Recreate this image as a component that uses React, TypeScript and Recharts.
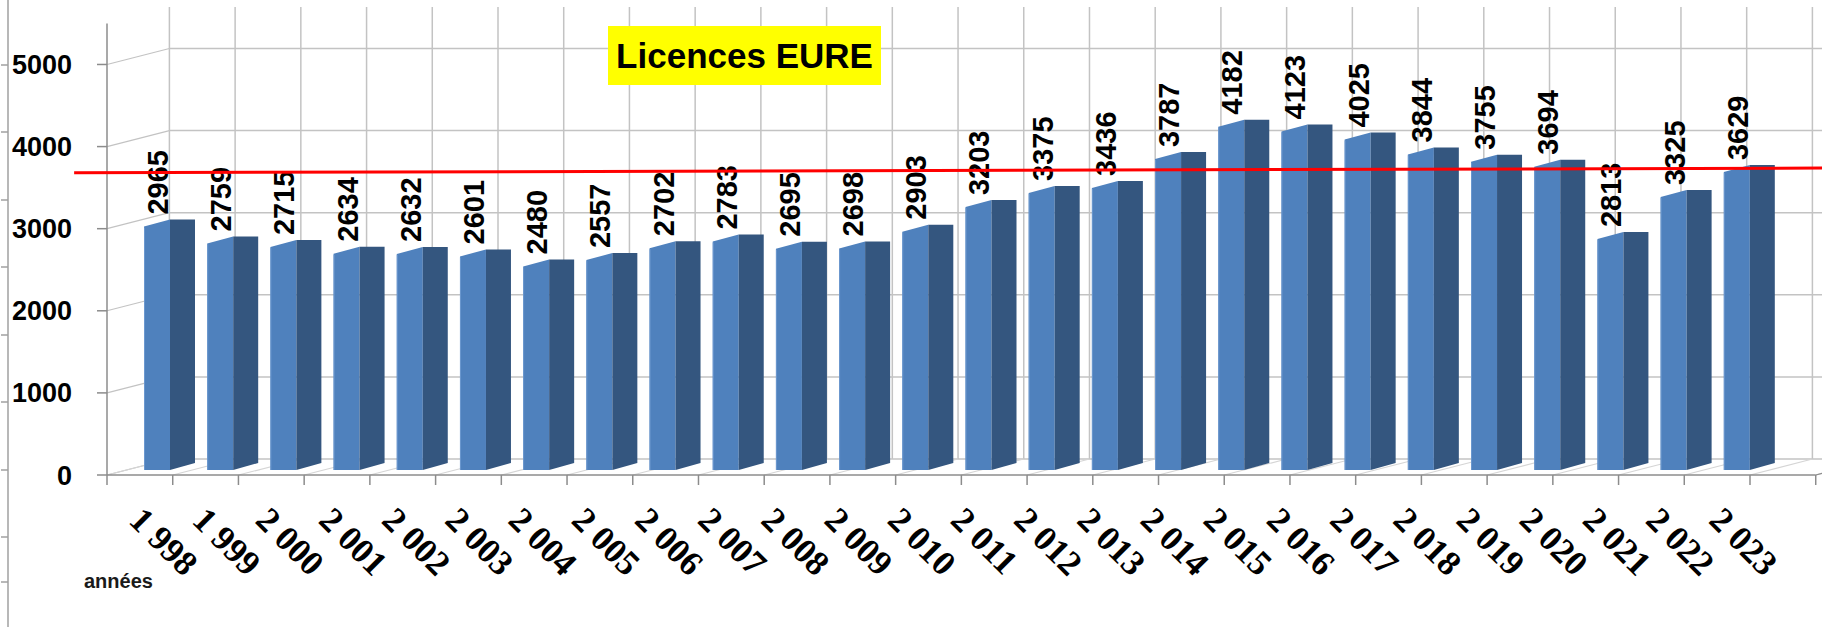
import React from 'react';
import { ComposedChart, Bar, XAxis, YAxis, ReferenceLine } from 'recharts';

// ---------- data ----------
const YEARS = ['1 998', '1 999', '2 000', '2 001', '2 002', '2 003', '2 004', '2 005', '2 006', '2 007', '2 008', '2 009', '2 010', '2 011', '2 012', '2 013', '2 014', '2 015', '2 016', '2 017', '2 018', '2 019', '2 020', '2 021', '2 022', '2 023'];
const LICENCES = [2965, 2759, 2715, 2634, 2632, 2601, 2480, 2557, 2702, 2783, 2695, 2698, 2903, 3203, 3375, 3436, 3787, 4182, 4123, 4025, 3844, 3755, 3694, 2813, 3325, 3629];
const Y_TICKS = [0, 1000, 2000, 3000, 4000, 5000];
const Y_MAX = 5700;
const Y_AXIS_TOP = 5500;
const RED_LINE_X = [-0.5, 27.0];
const RED_LINE_Y = [3680, 3740];
const TITLE = 'Licences EURE';
const X_TITLE = 'années';

// ---------- layout ----------
const W = 1822;
const H = 627;
const MARGIN = { top: 7, right: 72, bottom: 0, left: 0 };
const Y_AXIS_W = 107;
const X_AXIS_H = 152;
const plotW = W - MARGIN.left - MARGIN.right - Y_AXIS_W;
const plotH = H - MARGIN.top - MARGIN.bottom - X_AXIS_H;
const N = YEARS.length;
const pxPerCat = plotW / N;
const pxPerVal = plotH / Y_MAX;
const DEPTH_PX = { x: 60, y: 16 };
const DX = DEPTH_PX.x / pxPerCat;
const DY = DEPTH_PX.y / pxPerVal;
const TICK_LEN = 10 / pxPerVal;

const BAR_SHIFT = { x: 18, y: -5 };
const SIDE = { x: 25, y: 7 };
const FRONT = '#4F81BD';
const SIDE_COL = '#34567F';
const GRID = '#C3C3C3';
const AXIS = '#8C8C8C';

const data = YEARS.map((year, i) => ({ year, licences: LICENCES[i] }));
const idx = Array.from({ length: N + 1 }, (_, i) => i);

type Seg = { x: number; y: number }[];
const backH: Seg[] = Y_TICKS.map((v) => [{ x: DX, y: v + DY }, { x: N + DX, y: v + DY }]);
const backV: Seg[] = idx.map((i) => [{ x: i + DX, y: DY }, { x: i + DX, y: Y_MAX }]);
const leftWall: Seg[] = Y_TICKS.map((v) => [{ x: 0, y: v }, { x: DX, y: v + DY }]);
const floorD: Seg[] = idx.map((i) => [{ x: i, y: 0 }, { x: i + DX, y: DY }]);
const frontTicks: Seg[] = idx.map((i) => [{ x: i, y: 0 }, { x: i, y: -TICK_LEN }]);

const RULER_TICKS = [65, 132, 200, 267, 335, 402, 470, 537, 582];

function Bar3D(props: any) {
  const { x, y, width, height, payload, value } = props;
  if (x == null || y == null) return null;
  const fx = x + BAR_SHIFT.x;
  const fy = y + BAR_SHIFT.y;
  const w = width;
  const h = height;
  const v = payload && payload.licences != null ? payload.licences : Array.isArray(value) ? value[1] : value;
  const cx = fx + w / 2 + 1;
  const ly = fy - 12;
  return (
    <g>
      <polygon
        points={`${fx},${fy + h} ${fx},${fy} ${fx + w},${fy - SIDE.y} ${fx + w},${fy + h}`}
        fill={FRONT}
      />
      <line x1={fx + 0.5} y1={fy + 1} x2={fx + 0.5} y2={fy + h} stroke="#6C98CF" strokeWidth={1} />
      <polygon
        points={`${fx + w},${fy - SIDE.y} ${fx + w + SIDE.x},${fy - SIDE.y} ${fx + w + SIDE.x},${fy + h - SIDE.y} ${fx + w},${fy + h}`}
        fill={SIDE_COL}
      />
      <text
        x={cx}
        y={ly}
        transform={`rotate(-90 ${cx} ${ly})`}
        textAnchor="start"
        dominantBaseline="central"
        fontFamily="'Liberation Sans', Arial, sans-serif"
        fontWeight="bold"
        fontSize={29}
        fill="#000"
      >
        {v}
      </text>
    </g>
  );
}

function XTick(props: any) {
  const { x, y, payload } = props;
  const px = x - 11;
  const py = y + 47;
  return (
    <text
      x={px}
      y={py}
      transform={`rotate(45 ${px} ${py})`}
      textAnchor="start"
      fontFamily="'Liberation Serif', 'Times New Roman', serif"
      fontWeight="bold"
      fontSize={35}
      fill="#000"
    >
      {payload.value}
    </text>
  );
}

function seg(s: Seg, key: string, stroke: string, sw: number, z: number) {
  return (
    <ReferenceLine
      key={key}
      xAxisId="gx"
      yAxisId="f"
      segment={s}
      stroke={stroke}
      strokeWidth={sw}
      ifOverflow="visible"
      zIndex={z}
    />
  );
}

export default function App() {
  return (
    <div style={{ position: 'absolute', left: 0, top: 0, width: W, height: H, background: '#fff', overflow: 'hidden' }}>
      <svg width={W} height={H} style={{ position: 'absolute', left: 0, top: 0 }}>
        <line x1={8} y1={0} x2={8} y2={H} stroke="#A0A0A0" strokeWidth={1.5} />
        {RULER_TICKS.map((t) => (
          <line key={t} x1={1} y1={t} x2={8} y2={t} stroke="#A0A0A0" strokeWidth={1.5} />
        ))}
        <text x={84} y={588} fontFamily="'Liberation Sans', Arial, sans-serif" fontWeight="bold" fontSize={20} fill="#1a1a1a">
          {X_TITLE}
        </text>
      </svg>
      <div style={{ position: 'absolute', left: 0, top: 0 }}>
        <ComposedChart width={W} height={H} data={data} margin={MARGIN}>
          <XAxis
            xAxisId="f"
            dataKey="year"
            type="category"
            height={X_AXIS_H}
            tickSize={0}
            tickMargin={0}
            axisLine={false}
            tickLine={false}
            interval={0}
            tick={(p: any) => <XTick {...p} />}
          />
          <XAxis xAxisId="gx" type="number" domain={[0, N]} hide allowDataOverflow />
          <YAxis
            yAxisId="f"
            type="number"
            domain={[0, Y_MAX]}
            ticks={Y_TICKS}
            allowDataOverflow
            width={Y_AXIS_W}
            tickSize={10}
            tickMargin={25}
            axisLine={false}
            tickLine={{ stroke: AXIS, strokeWidth: 1.5 }}
            tick={{ fontSize: 27, fontWeight: 'bold', fill: '#000', fontFamily: "'Liberation Sans', Arial, sans-serif" }}
          />
          {backH.map((s, i) => seg(s, `bh${i}`, GRID, 1.5, -100))}
          {backV.map((s, i) => seg(s, `bv${i}`, GRID, 1.5, -100))}
          {leftWall.map((s, i) => seg(s, `lw${i}`, GRID, 1.2, -100))}
          {floorD.map((s, i) => seg(s, `fd${i}`, '#D5D5D5', 1.2, -100))}
          {frontTicks.map((s, i) => seg(s, `ft${i}`, AXIS, 1.5, -90))}
          {seg([{ x: 0, y: 0 }, { x: N, y: 0 }], 'fa', AXIS, 1.5, -90)}
          {seg([{ x: N, y: 0 }, { x: N + DX, y: DY }], 'fr', AXIS, 1.2, -90)}
          {seg([{ x: 0, y: 0 }, { x: 0, y: Y_AXIS_TOP }], 'ya', AXIS, 1.5, -90)}
          <Bar
            xAxisId="f"
            yAxisId="f"
            dataKey="licences"
            barSize={26}
            isAnimationActive={false}
            shape={(p: any) => <Bar3D {...p} />}
          />
          {seg(
            [
              { x: RED_LINE_X[0], y: RED_LINE_Y[0] },
              { x: RED_LINE_X[1], y: RED_LINE_Y[1] },
            ],
            'red',
            '#FF0000',
            3,
            1500
          )}
        </ComposedChart>
      </div>
      <div
        style={{
          position: 'absolute',
          left: 608,
          top: 26,
          width: 273,
          height: 59,
          background: '#FFFF00',
          fontFamily: "'Liberation Sans', Arial, sans-serif",
          fontWeight: 'bold',
          fontSize: 35,
          lineHeight: '59px',
          textAlign: 'center',
          color: '#000',
        }}
      >
        {TITLE}
      </div>
    </div>
  );
}
